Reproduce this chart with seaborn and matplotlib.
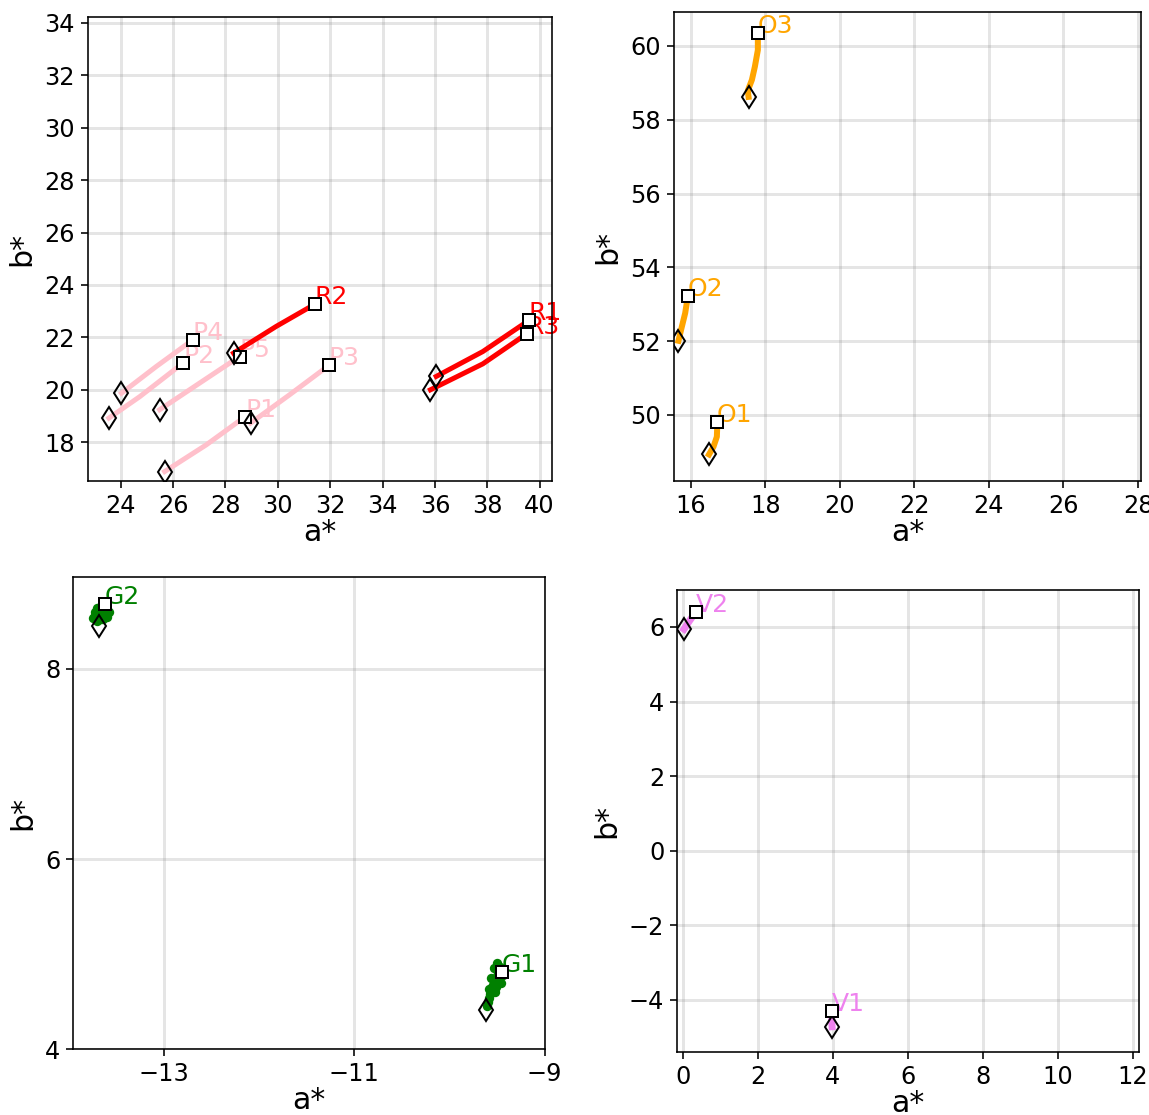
import matplotlib
matplotlib.use("Agg")
import matplotlib.pyplot as plt
import seaborn as sns
import pandas as pd

# ---------------- data (a*, b*) ----------------
# panel 1: red / pink
R1_a = [36.05, 37.83, 39.59]; R1_b = [20.51, 21.46, 22.65]
R2_a = [28.31, 29.94, 31.42]; R2_b = [21.40, 22.42, 23.27]
R3_a = [35.83, 37.83, 39.51]; R3_b = [20.00, 20.99, 22.14]
P1_a = [25.68, 27.27, 28.76]; P1_b = [16.88, 17.90, 18.98]
P2_a = [23.55, 24.73, 26.38]; P2_b = [18.92, 19.74, 21.02]
P3_a = [28.96, 30.45, 31.95]; P3_b = [18.73, 19.81, 20.93]
P4_a = [24.03, 25.36, 26.76]; P4_b = [19.87, 20.89, 21.91]
P5_a = [25.49, 27.02, 28.54]; P5_b = [19.24, 20.26, 21.27]
# panel 2: orange
O1_a = [16.49, 16.61, 16.70, 16.71, 16.70]; O1_b = [48.93, 49.14, 49.41, 49.68, 49.82]
O2_a = [15.67, 15.76, 15.85, 15.92]; O2_b = [52.01, 52.39, 52.76, 53.21]
O3_a = [17.55, 17.53, 17.64, 17.72, 17.80, 17.80]; O3_b = [58.62, 58.79, 59.08, 59.44, 59.89, 60.34]
# panel 3: green (start, cloud..., end)
G1_a = [-9.61, -9.60, -9.59, -9.58, -9.57, -9.56, -9.55, -9.54, -9.53, -9.52, -9.50, -9.49,
        -9.48, -9.47, -9.50, -9.53, -9.56, -9.52, -9.46, -9.44, -9.58, -9.51, -9.45]
G1_b = [4.41, 4.46, 4.50, 4.54, 4.58, 4.62, 4.65, 4.68, 4.71, 4.74, 4.77, 4.80,
        4.83, 4.87, 4.91, 4.85, 4.75, 4.60, 4.70, 4.78, 4.63, 4.66, 4.81]
G2_a = [-13.68, -13.70, -13.74, -13.72, -13.68, -13.64, -13.60, -13.58, -13.62, -13.66, -13.70,
        -13.66, -13.72, -13.60, -13.64, -13.69, -13.62]
G2_b = [8.45, 8.50, 8.54, 8.60, 8.62, 8.58, 8.55, 8.60, 8.65, 8.66, 8.64, 8.53,
        8.57, 8.63, 8.52, 8.56, 8.68]
# panel 4: violet
V1_a = [3.98, 3.97, 3.98]; V1_b = [-4.72, -4.55, -4.29]
V2_a = [0.03, 0.18, 0.35]; V2_b = [5.94, 6.17, 6.41]

panel1 = [("P1", P1_a, P1_b, "pink"), ("P2", P2_a, P2_b, "pink"), ("P3", P3_a, P3_b, "pink"),
          ("P4", P4_a, P4_b, "pink"), ("P5", P5_a, P5_b, "pink"),
          ("R1", R1_a, R1_b, "red"), ("R2", R2_a, R2_b, "red"), ("R3", R3_a, R3_b, "red")]
panel2 = [("O1", O1_a, O1_b, "orange"), ("O2", O2_a, O2_b, "orange"), ("O3", O3_a, O3_b, "orange")]
panel3 = [("G1", G1_a, G1_b, "green"), ("G2", G2_a, G2_b, "green")]
panel4 = [("V1", V1_a, V1_b, "violet"), ("V2", V2_a, V2_b, "violet")]

plt.rcParams["font.family"] = ["DejaVu Sans"]
DPI = 144
fig = plt.figure(figsize=(1149 / DPI, 1115 / DPI), dpi=DPI)

W, H = 1149, 1115
def box(l, t, r, b):
    return [l / W, 1 - b / H, (r - l) / W, (b - t) / H]

axes_spec = [
    (box(87.7, 16.7, 551.7, 480.7), panel1, (22.74, 40.46), (16.53, 34.24),
     list(range(24, 41, 2)), list(range(18, 35, 2)), "line"),
    (box(674, 12, 1141, 481), panel2, (15.55, 28.08), (48.21, 60.92),
     list(range(16, 29, 2)), list(range(50, 61, 2)), "line"),
    (box(73.3, 576.7, 544.5, 1049.3), panel3, (-13.95, -9.0), (4.0, 8.97),
     [-13, -11, -9], [4, 6, 8], "cloud"),
    (box(677.3, 590, 1139, 1051.7), panel4, (-0.15, 12.17), (-5.39, 6.99),
     list(range(0, 13, 2)), list(range(-4, 7, 2)), "thick"),
]

for rect, series, xl, yl, xt, yt, kind in axes_spec:
    ax = fig.add_axes(rect)
    ax.set_axisbelow(True)
    for name, a, b, col in series:
        df = pd.DataFrame({"a*": a, "b*": b})
        if kind == "cloud":
            sns.scatterplot(data=df.iloc[1:-1], x="a*", y="b*", ax=ax, color=col,
                            s=22, linewidth=0, zorder=2)
        else:
            lw = 2.5 if kind == "line" else 3.5
            if name.startswith("O"):
                lw = 3.0
            sns.lineplot(data=df, x="a*", y="b*", ax=ax, color=col, linewidth=lw,
                         sort=False, estimator=None, zorder=2.5 if col == "red" else 2)
        ax.plot(a[0], b[0], marker="d", ms=8, mfc="none", mec="black", mew=1.0,
                linestyle="none", zorder=4)
        ax.plot(a[-1], b[-1], marker="s", ms=6, mfc="white", mec="black", mew=1.0,
                linestyle="none", zorder=4)
        ax.text(a[-1], b[-1], name, color=col, fontsize=12.5, zorder=2.2)
    ax.set_xlim(*xl)
    ax.set_ylim(*yl)
    ax.set_xticks(xt)
    ax.set_yticks(yt)
    ax.grid(True, color="gray", alpha=0.2, linewidth=1.5)
    ax.tick_params(labelsize=12, pad=3)
    ax.set_xlabel("a*", fontsize=15, labelpad=0)
    ax.set_ylabel("b*", fontsize=15, labelpad=4)

fig.savefig("out.png", dpi=DPI)
